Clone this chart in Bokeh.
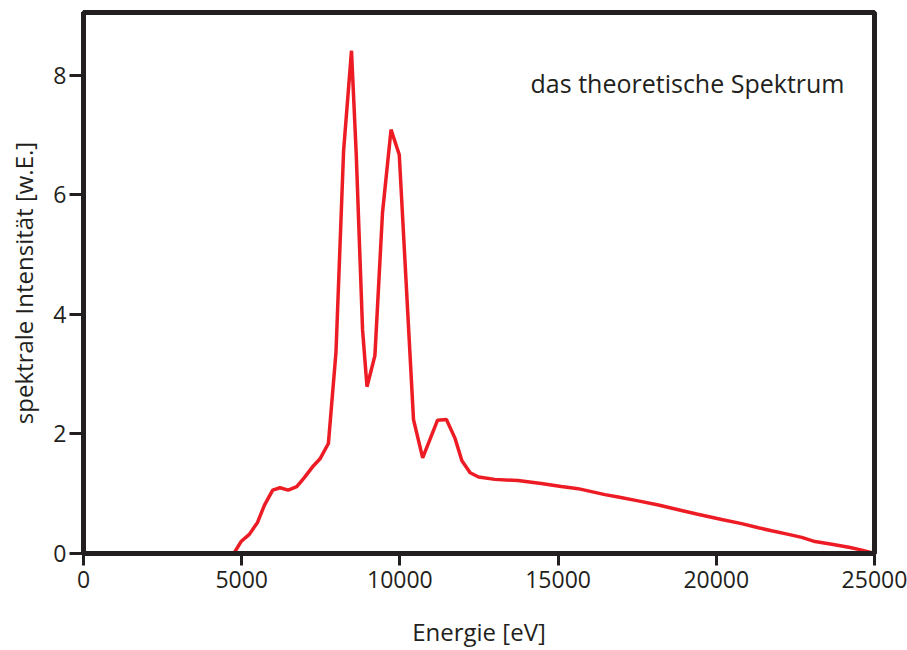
from bokeh.plotting import figure
from bokeh.models import Range1d, FixedTicker, Label
from bokeh.embed import file_html
from bokeh.resources import INLINE

# Data
energy_ev = [1000, 4750, 4980, 5240, 5500, 5720, 5980, 6210, 6470, 6740, 6980,
             7240, 7470, 7740, 7980, 8220, 8470, 8620, 8820, 8960, 9210, 9450,
             9720, 9980, 10430, 10720, 11190, 11470, 11740, 11960, 12220, 12490,
             13000, 13730, 14470, 15100, 15630, 16480, 16900, 17530, 18170,
             18900, 19380, 20170, 20800, 21330, 21750, 22280, 22700, 23120,
             23650, 24230, 24600, 25000]
intensity = [0.0, 0.0, 0.2, 0.32, 0.52, 0.81, 1.06, 1.10, 1.06, 1.12, 1.27,
             1.45, 1.58, 1.84, 3.37, 6.73, 8.41, 6.68, 3.74, 2.79, 3.31, 5.70,
             7.09, 6.67, 2.24, 1.60, 2.23, 2.24, 1.93, 1.55, 1.35, 1.28,
             1.24, 1.22, 1.17, 1.12, 1.085, 0.985, 0.946, 0.88, 0.81,
             0.72, 0.66, 0.57, 0.50, 0.43, 0.38, 0.32, 0.27, 0.20,
             0.156, 0.10, 0.056, 0.0]
x_ticks = [0, 5000, 10000, 15000, 20000, 25000]
y_ticks = [0, 2, 4, 6, 8]
x_title = "Energie [eV]"
y_title = "spektrale Intensität [w.E.]"
annotation = "das theoretische Spektrum"

FONT = "Open Sans"
DARK = "#231f20"
RED = "#ed1c24"

p = figure(width=907, height=650, output_backend="svg", toolbar_location=None,
           x_range=Range1d(0, 25000), y_range=Range1d(0, 9.05),
           min_border_left=83, min_border_right=33, min_border_top=12,
           min_border_bottom=96)
p.grid.visible = False
p.background_fill_color = "white"
p.border_fill_color = "white"
p.outline_line_color = DARK
p.outline_line_width = 5

p.line(energy_ev, intensity, line_color=RED, line_width=3.5)

for ax in (p.xaxis[0], p.yaxis[0]):
    ax.axis_line_color = DARK
    ax.axis_line_width = 5
    ax.major_tick_line_color = DARK
    ax.major_tick_line_width = 3
    ax.major_tick_in = 0
    ax.minor_tick_line_color = None
    ax.major_label_text_font = FONT
    ax.major_label_text_font_size = "23px"
    ax.major_label_text_color = DARK
    ax.axis_label_text_font = FONT
    ax.axis_label_text_font_size = "24px"
    ax.axis_label_text_font_style = "normal"
    ax.axis_label_text_color = DARK

p.xaxis.ticker = FixedTicker(ticks=x_ticks)
p.yaxis.ticker = FixedTicker(ticks=y_ticks)
p.xaxis.major_tick_out = 12
p.yaxis.major_tick_out = 14
p.xaxis.major_label_standoff = 5
p.yaxis.major_label_standoff = 3
p.xaxis.axis_label = x_title
p.yaxis.axis_label = y_title
p.xaxis.axis_label_standoff = 24
p.yaxis.axis_label_standoff = 10

p.add_layout(Label(x=14130, y=7.87, text=annotation, text_font=FONT,
                   text_font_size="25px", text_color=DARK,
                   text_baseline="alphabetic", text_align="left"))

open("out.html", "w").write(file_html(p, INLINE))
